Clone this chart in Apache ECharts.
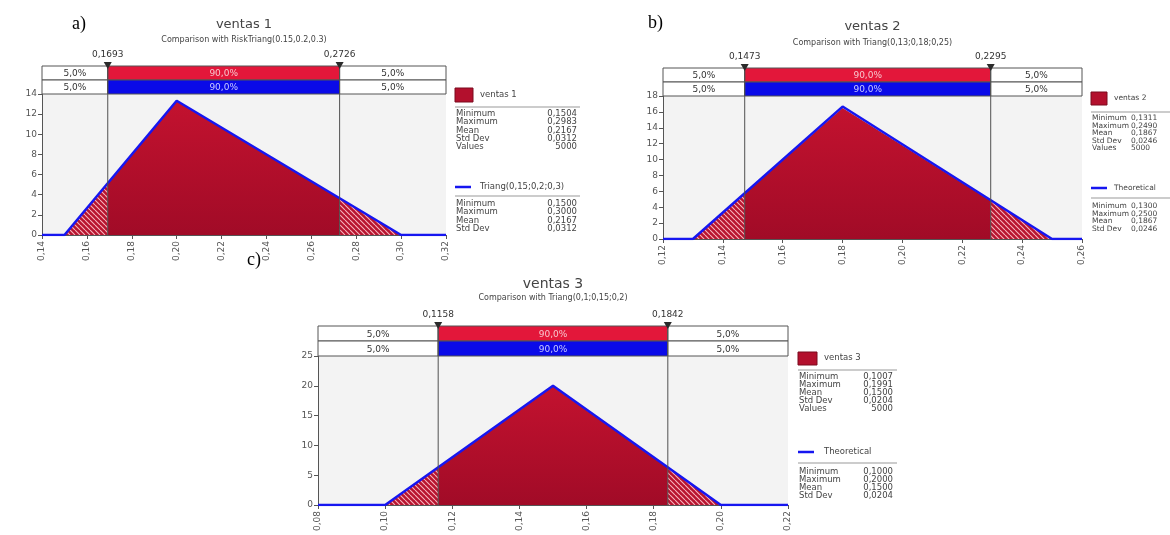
<!DOCTYPE html>
<html>
<head>
<meta charset="utf-8">
<script src="https://cdn.jsdelivr.net/npm/echarts@6/dist/echarts.min.js"></script>
<style>
html, body { margin: 0; padding: 0; background: #fff; }
#main { width: 1170px; height: 535px; }
</style>
</head>
<body>
<div id="main"></div>
<script>
// datos: densidad simulada (histograma) y triangular teorica
// ventas 1
var histA = [[0.15, 0], [0.1693, 5.1], [0.20, 13.3], [0.2726, 3.6], [0.30, 0]];
var theoA = [[0.14, 0], [0.15, 0], [0.20, 13.33], [0.30, 0], [0.32, 0]];
var pctA = [0.1693, 0.2726];
var statsA = ['0,1504', '0,2983', '0,2167', '0,0312', '5000'];
var theoStatsA = ['0,1500', '0,3000', '0,2167', '0,0312'];
// ventas 2
var histB = [[0.13, 0], [0.1473, 5.7], [0.18, 16.5], [0.2295, 4.8], [0.25, 0]];
var theoB = [[0.12, 0], [0.13, 0], [0.18, 16.67], [0.25, 0], [0.26, 0]];
var pctB = [0.1473, 0.2295];
var statsB = ['0,1311', '0,2490', '0,1867', '0,0246', '5000'];
var theoStatsB = ['0,1300', '0,2500', '0,1867', '0,0246'];
// ventas 3
var histC = [[0.10, 0], [0.1158, 6.2], [0.15, 19.9], [0.1842, 6.2], [0.20, 0]];
var theoC = [[0.08, 0], [0.10, 0], [0.15, 20], [0.20, 0], [0.22, 0]];
var pctC = [0.1158, 0.1842];
var statsC = ['0,1007', '0,1991', '0,1500', '0,0204', '5000'];
var theoStatsC = ['0,1000', '0,2000', '0,1500', '0,0204'];

var statLabels = ['Minimum', 'Maximum', 'Mean', 'Std Dev', 'Values'];
var boxLabels = ['5,0%', '90,0%', '5,0%'];

var FONT = '"DejaVu Sans", Verdana, sans-serif';

var panels = [
    {
        grid: {left: 42, top: 94, width: 404, height: 141},
        x: [0.14, 0.32, 0.02], y: [14, 2], rowH: 14,
        hist: histA, theo: theoA, pct: pctA,
        title: 'ventas 1', sub: 'Comparison with RiskTriang(0.15,0.2,0.3)',
        titleY: 25, subY: 40, titleSize: 13,
        tag: 'a)', tagX: 72, tagY: 24,
        leg: {x: 455, swW: 18, swH: 14, swY: 88, nameY: 95, sep1: 107, sepW: 125, rowsY: 114, gap: 8.2,
              valX: 577, valAlign: 'right', lineY: 187, sep2: 196, rows2Y: 204, font: 8.5,
              name: 'ventas 1', lineName: 'Triang(0,15;0,2;0,3)', stats: statsA, theoStats: theoStatsA}
    },
    {
        grid: {left: 663, top: 96, width: 419, height: 143},
        x: [0.12, 0.26, 0.02], y: [18, 2], rowH: 14,
        hist: histB, theo: theoB, pct: pctB,
        title: 'ventas 2', sub: 'Comparison with Triang(0,13;0,18;0,25)',
        titleY: 27, subY: 43, titleSize: 13,
        tag: 'b)', tagX: 648, tagY: 23,
        leg: {x: 1091, swW: 16, swH: 13, swY: 92, nameY: 98, sep1: 112, sepW: 79, rowsY: 118, gap: 7.6,
              valX: 1131, valAlign: 'left', lineY: 188, sep2: 198, rows2Y: 206, font: 7.5,
              name: 'ventas 2', lineName: 'Theoretical', stats: statsB, theoStats: theoStatsB}
    },
    {
        grid: {left: 318, top: 356, width: 470, height: 149},
        x: [0.08, 0.22, 0.02], y: [25, 5], rowH: 15,
        hist: histC, theo: theoC, pct: pctC,
        title: 'ventas 3', sub: 'Comparison with Triang(0,1;0,15;0,2)',
        titleY: 284, subY: 298, titleSize: 14,
        tag: 'c)', tagX: 247, tagY: 260,
        leg: {x: 798, swW: 19, swH: 13, swY: 352, nameY: 358, sep1: 370, sepW: 99, rowsY: 377, gap: 8,
              valX: 893, valAlign: 'right', lineY: 452, sep2: 463, rows2Y: 472, font: 8.5,
              name: 'ventas 3', lineName: 'Theoretical', stats: statsC, theoStats: theoStatsC}
    }
];

function hatch() {
    var c = document.createElement('canvas');
    c.width = 5; c.height = 5;
    var g = c.getContext('2d');
    g.fillStyle = '#b8142f';
    g.fillRect(0, 0, 5, 5);
    g.strokeStyle = '#f6b3bd';
    g.lineWidth = 1.1;
    g.beginPath();
    for (var k = -5; k <= 5; k += 5) { g.moveTo(k, 0); g.lineTo(k + 5, 5); }
    g.stroke();
    return c;
}
var hatchImg = hatch();

function fmt(v, d) { return v.toFixed(d).replace('.', ','); }

var grids = [], xAxes = [], yAxes = [], series = [], graphics = [];

panels.forEach(function (p, i) {
    grids.push(Object.assign({show: true, backgroundColor: '#f3f3f3', borderWidth: 0, containLabel: false}, p.grid));
    xAxes.push({
        type: 'value', gridIndex: i, min: p.x[0], max: p.x[1], interval: p.x[2],
        splitLine: {show: false},
        axisLine: {lineStyle: {color: '#555'}},
        axisTick: {length: 4, lineStyle: {color: '#555'}},
        axisLabel: {rotate: 90, fontSize: 9, color: '#555', fontFamily: FONT, margin: 6,
                    formatter: function (v) { return fmt(v, 2); }}
    });
    yAxes.push({
        type: 'value', gridIndex: i, min: 0, max: p.y[0], interval: p.y[1],
        splitLine: {show: false},
        axisLine: {show: true, lineStyle: {color: '#555'}},
        axisTick: {show: true, length: 4, lineStyle: {color: '#555'}},
        axisLabel: {fontSize: 9, color: '#555', fontFamily: FONT, margin: 5}
    });

    // histograma: cola izquierda, centro 90%, cola derecha
    var parts = [p.hist.slice(0, 2), p.hist.slice(1, 4), p.hist.slice(3, 5)];
    parts.forEach(function (d, k) {
        series.push({
            type: 'line', xAxisIndex: i, yAxisIndex: i, data: d, symbol: 'none', z: 2,
            lineStyle: {width: 0},
            areaStyle: {
                opacity: 1,
                color: k === 1 ? new echarts.graphic.LinearGradient(0, 0, 0, 1, [
                    {offset: 0, color: '#c3122f'}, {offset: 1, color: '#a10b27'}
                ]) : {image: hatchImg, repeat: 'repeat'}
            }
        });
    });

    // caja de percentiles (dos filas)
    var ends = [p.x[0], p.pct[0], p.pct[1], p.x[1]];
    var boxData = [];
    for (var r = 0; r < 2; r++) {
        for (var c = 0; c < 3; c++) boxData.push([ends[c], ends[c + 1], r]);
    }
    var rowH = p.rowH;
    series.push({
        type: 'custom', xAxisIndex: i, yAxisIndex: i, data: boxData, clip: false, z: 5,
        encode: {x: [0, 1], y: 2},
        renderItem: function (params, api) {
            var cs = params.coordSys;
            var x0 = api.coord([api.value(0), 0])[0];
            var x1 = api.coord([api.value(1), 0])[0];
            var row = api.value(2);
            var col = params.dataIndex % 3;
            var top = cs.y - 2 * rowH + row * rowH;
            var fill = '#fff', tc = '#333';
            if (col === 1) {
                fill = row === 0 ? '#e3173a' : '#0a0ae8';
                tc = row === 0 ? '#f7c4cc' : '#c9c9ff';
            }
            return {type: 'group', children: [
                {type: 'rect', shape: {x: x0, y: top, width: x1 - x0, height: rowH},
                 style: {fill: fill, stroke: '#555', lineWidth: 1}},
                {type: 'text', x: (x0 + x1) / 2, y: top + rowH / 2 + 1,
                 style: {text: boxLabels[col], fill: tc, font: '9px ' + FONT, align: 'center', verticalAlign: 'middle'}}
            ]};
        }
    });

    // lineas de percentil con marcador
    series.push({
        type: 'custom', xAxisIndex: i, yAxisIndex: i, data: p.pct.map(function (v) { return [v, 0]; }),
        clip: false, z: 6, encode: {x: 0, y: 1},
        renderItem: function (params, api) {
            var cs = params.coordSys;
            var pt = api.coord([api.value(0), 0]);
            var top = cs.y - 2 * rowH;
            return {type: 'group', children: [
                {type: 'line', shape: {x1: pt[0], y1: top, x2: pt[0], y2: pt[1]},
                 style: {stroke: '#505050', lineWidth: 1}},
                {type: 'polygon', shape: {points: [[pt[0] - 4, top - 4], [pt[0] + 4, top - 4], [pt[0], top + 3]]},
                 style: {fill: '#2b2b2b'}},
                {type: 'text', x: pt[0], y: top - 11,
                 style: {text: fmt(api.value(0), 4), fill: '#333', font: '9px ' + FONT, align: 'center', verticalAlign: 'middle'}}
            ]};
        }
    });

    // triangular teorica
    series.push({
        type: 'line', xAxisIndex: i, yAxisIndex: i, data: p.theo, symbol: 'none', z: 4,
        lineStyle: {color: '#1616f0', width: 2.5}
    });

    // titulos
    var cx = p.grid.left + p.grid.width / 2;
    graphics.push({type: 'text', x: cx, y: p.titleY,
        style: {text: p.title, fill: '#444', font: p.titleSize + 'px ' + FONT, align: 'center', verticalAlign: 'middle'}});
    graphics.push({type: 'text', x: cx, y: p.subY,
        style: {text: p.sub, fill: '#444', font: '8px ' + FONT, align: 'center', verticalAlign: 'middle'}});
    graphics.push({type: 'text', x: p.tagX, y: p.tagY,
        style: {text: p.tag, fill: '#000', font: '18px "Liberation Serif", serif', align: 'left', verticalAlign: 'middle'}});

    // leyenda con estadisticas
    var L = p.leg, f = L.font + 'px ' + FONT;
    graphics.push({type: 'rect', shape: {x: L.x, y: L.swY, width: L.swW, height: L.swH},
        style: {fill: '#b3102d', stroke: '#7a0a1e', lineWidth: 1}});
    graphics.push({type: 'text', x: L.x + L.swW + 7, y: L.nameY,
        style: {text: L.name, fill: '#444', font: f, verticalAlign: 'middle'}});
    graphics.push({type: 'line', shape: {x1: L.x, y1: L.sep1, x2: L.x + L.sepW, y2: L.sep1},
        style: {stroke: '#999', lineWidth: 1}});
    L.stats.forEach(function (s, k) {
        var yy = L.rowsY + k * L.gap;
        graphics.push({type: 'text', x: L.x + 1, y: yy, style: {text: statLabels[k], fill: '#444', font: f, verticalAlign: 'middle'}});
        graphics.push({type: 'text', x: L.valX, y: yy, style: {text: s, fill: '#444', font: f, align: L.valAlign, verticalAlign: 'middle'}});
    });
    graphics.push({type: 'line', shape: {x1: L.x, y1: L.lineY, x2: L.x + 16, y2: L.lineY},
        style: {stroke: '#1616f0', lineWidth: 2.5}});
    graphics.push({type: 'text', x: L.x + L.swW + 7, y: L.lineY,
        style: {text: L.lineName, fill: '#444', font: f, verticalAlign: 'middle'}});
    graphics.push({type: 'line', shape: {x1: L.x, y1: L.sep2, x2: L.x + L.sepW, y2: L.sep2},
        style: {stroke: '#999', lineWidth: 1}});
    L.theoStats.forEach(function (s, k) {
        var yy = L.rows2Y + k * L.gap;
        graphics.push({type: 'text', x: L.x + 1, y: yy, style: {text: statLabels[k], fill: '#444', font: f, verticalAlign: 'middle'}});
        graphics.push({type: 'text', x: L.valX, y: yy, style: {text: s, fill: '#444', font: f, align: L.valAlign, verticalAlign: 'middle'}});
    });
});

var chart = echarts.init(document.getElementById('main'));
chart.setOption({
    animation: false,
    backgroundColor: '#fff',
    grid: grids,
    xAxis: xAxes,
    yAxis: yAxes,
    series: series,
    graphic: graphics
});
</script>
</body>
</html>
